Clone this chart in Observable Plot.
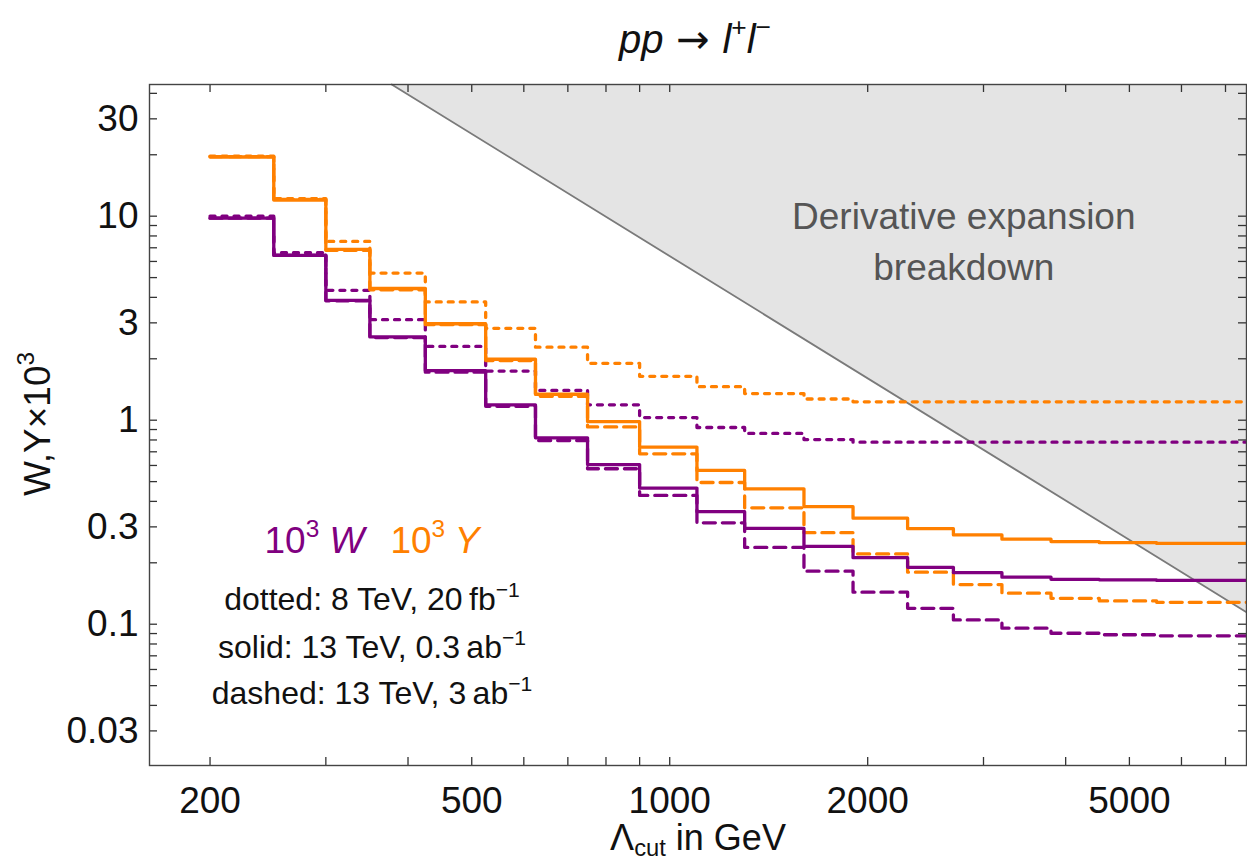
<!DOCTYPE html>
<html><head><meta charset="utf-8">
<script src="https://cdn.jsdelivr.net/npm/d3@7"></script>
<script src="https://cdn.jsdelivr.net/npm/@observablehq/plot@0.6"></script>
<style>
body{margin:0;background:#fff;}
#chart svg{font-family:"Liberation Sans",Arial,sans-serif;}
</style></head><body>
<div id="chart"></div>
<script>
// bin edges of the cut Λ (GeV); each value holds from its edge to the next
const binEdges = [200,250,300,350,425,525,625,750,900,1100,1300,1600,1900,2300,2700,3200,3800,4500,5500,7600];
// 10^3 W
const W_8TeV_20fb   = [10.0,6.62,4.33,3.11,2.30,1.74,1.40,1.19,1.03,0.921,0.861,0.804,0.780,0.780,0.780,0.780,0.780,0.780,0.780];
const W_13TeV_03ab  = [9.78,6.42,3.87,2.56,1.75,1.19,0.82,0.606,0.465,0.356,0.295,0.241,0.212,0.190,0.179,0.170,0.166,0.165,0.164];
const W_13TeV_3ab   = [9.78,6.45,3.85,2.54,1.72,1.17,0.795,0.578,0.428,0.314,0.238,0.182,0.1435,0.1196,0.105,0.0956,0.0903,0.0888,0.0877];
// 10^3 Y
const Y_8TeV_20fb   = [19.7,12.2,7.52,5.26,3.80,2.82,2.28,1.90,1.64,1.46,1.35,1.27,1.23,1.23,1.23,1.23,1.23,1.23,1.23];
const Y_13TeV_03ab  = [19.5,12.0,6.87,4.42,2.97,1.99,1.34,0.985,0.738,0.567,0.461,0.377,0.331,0.294,0.274,0.261,0.254,0.251,0.249];
const Y_13TeV_3ab   = [19.6,12.1,6.80,4.36,2.94,1.96,1.31,0.927,0.684,0.495,0.372,0.281,0.221,0.180,0.1565,0.142,0.134,0.130,0.128];
// boundary of the derivative-expansion breakdown region (Λ, value)
const breakdownLambda = [377.8, 7534];
const breakdownValue  = [44.2, 0.1146];
// axes
const xDomain = [161.8, 7534];
const yDomain = [0.0203, 44.2];
const xTickLabels = [200, 500, 1000, 2000, 5000];
const xTicks = [200,300,400,500,600,700,800,900,1000,2000,3000,4000,5000,6000,7000];
const yTickLabels = [0.03, 0.1, 0.3, 1, 3, 10, 30];
const yTicks = [0.03,0.04,0.05,0.06,0.07,0.08,0.09,0.1,0.2,0.3,0.4,0.5,0.6,0.7,0.8,0.9,1,2,3,4,5,6,7,8,9,10,20,30,40];

const purple = "#800080", orange = "#ff8000";
const series = [
  {vals: W_8TeV_20fb,  color: purple, dash: "5,7"},
  {vals: Y_8TeV_20fb,  color: orange, dash: "5,7"},
  {vals: W_13TeV_3ab,  color: purple, dash: "12,7"},
  {vals: Y_13TeV_3ab,  color: orange, dash: "12,7"},
  {vals: W_13TeV_03ab, color: purple, dash: null},
  {vals: Y_13TeV_03ab, color: orange, dash: null},
];
const steps = vals => binEdges.map((e, i) => ({x: e, y: vals[Math.min(i, vals.length - 1)]}));
const breakdown = breakdownLambda.map((l, i) => ({x: l, y: breakdownValue[i]}));

const W = 1247, H = 867, mL = 149, mR = 1, mT = 84, mB = 102;
const fw = W - mL - mR, fh = H - mT - mB, tl = 8;

const plot = Plot.plot({
  width: W, height: H,
  marginLeft: mL, marginRight: mR, marginTop: mT, marginBottom: mB,
  style: {fontFamily: "Liberation Sans, Arial, sans-serif", background: "#fff"},
  x: {type: "log", domain: xDomain},
  y: {type: "log", domain: yDomain},
  marks: [
    Plot.areaY(breakdown, {x: "x", y1: "y", y2: yDomain[1], fill: "#e4e4e4"}),
    Plot.line(breakdown, {x: "x", y: "y", stroke: "#7a7a7a", strokeWidth: 1.8}),
    Plot.text([{x: 2800, y: 7.8}], {x: "x", y: "y", text: () => "Derivative expansion\nbreakdown",
      fontSize: 37, lineHeight: 1.37, fill: "#555"}),
    ...series.map(s => Plot.line(steps(s.vals), {x: "x", y: "y", curve: "step-after", stroke: s.color,
      strokeWidth: 3.3, strokeDasharray: s.dash, clip: true})),
    // inward ticks on all four sides
    Plot.ruleX(xTicks, {x: d => d, insetTop: fh - tl, stroke: "#333", strokeWidth: 1.3}),
    Plot.ruleX(xTicks, {x: d => d, insetBottom: fh - tl, stroke: "#333", strokeWidth: 1.3}),
    Plot.ruleY(yTicks, {y: d => d, insetRight: fw - tl, stroke: "#333", strokeWidth: 1.3}),
    Plot.ruleY(yTicks, {y: d => d, insetLeft: fw - tl, stroke: "#333", strokeWidth: 1.3}),
    Plot.axisX(xTickLabels, {anchor: "bottom", tickSize: 0, tickPadding: 21, fontSize: 37, label: null, tickFormat: d => String(d), fill: "#111"}),
    Plot.axisY(yTickLabels, {anchor: "left", tickSize: 0, tickPadding: 11, fontSize: 37, label: null, tickFormat: d => String(d), fill: "#111"}),
    Plot.frame({stroke: "#444", strokeWidth: 1.4})
  ]
});
document.getElementById("chart").appendChild(plot);

// rich text annotations (title, axis labels, legend)
const svg = d3.select(plot);
const font = "Liberation Sans, Arial, sans-serif";
function rich(x, y, size, parts, opts = {}) {
  const t = svg.append("text").attr("x", x).attr("y", y).attr("font-size", size)
    .attr("font-family", font).attr("text-anchor", "middle").attr("fill", opts.fill || "#111");
  if (opts.rotate) t.attr("transform", `rotate(-90 ${x} ${y})`);
  let shift = 0;
  for (const p of parts) {
    const s = t.append("tspan").text(p.t);
    if (p.i) s.attr("font-style", "italic");
    if (p.c) s.attr("fill", p.c);
    if (p.f) s.attr("font-family", p.f);
    const target = p.sup ? -0.42 * size : p.sub ? 0.16 * size : 0;
    if (target !== shift) { s.attr("dy", target - shift); shift = target; }
    if (p.sup || p.sub) s.attr("font-size", size * 0.66);
  }
  return t;
}
rich(695, 53, 40, [{t: "pp", i: 1}, {t: " \u2192 ", f: "DejaVu Sans"}, {t: "l", i: 1}, {t: "+", sup: 1}, {t: "l", i: 1}, {t: "\u2212", sup: 1}]);
rich(698, 850, 36, [{t: "\u039B"}, {t: "cut", sub: 1}, {t: " in GeV"}]);
rich(50, 424, 37, [{t: "W,Y\u00D710"}, {t: "3", sup: 1}], {rotate: true});
rich(372, 553, 37, [{t: "10", c: purple}, {t: "3", sup: 1, c: purple}, {t: " W", i: 1, c: purple}, {t: "\u2002\u2009"}, {t: "10", c: orange}, {t: "3", sup: 1, c: orange}, {t: " Y", i: 1, c: orange}]);
rich(372, 610, 32, [{t: "dotted: 8 TeV, 20\u2009fb"}, {t: "\u22121", sup: 1}]);
rich(372, 658, 32, [{t: "solid: 13 TeV, 0.3\u2009ab"}, {t: "\u22121", sup: 1}]);
rich(372, 704, 32, [{t: "dashed: 13 TeV, 3\u2009ab"}, {t: "\u22121", sup: 1}]);
</script>
</body></html>
